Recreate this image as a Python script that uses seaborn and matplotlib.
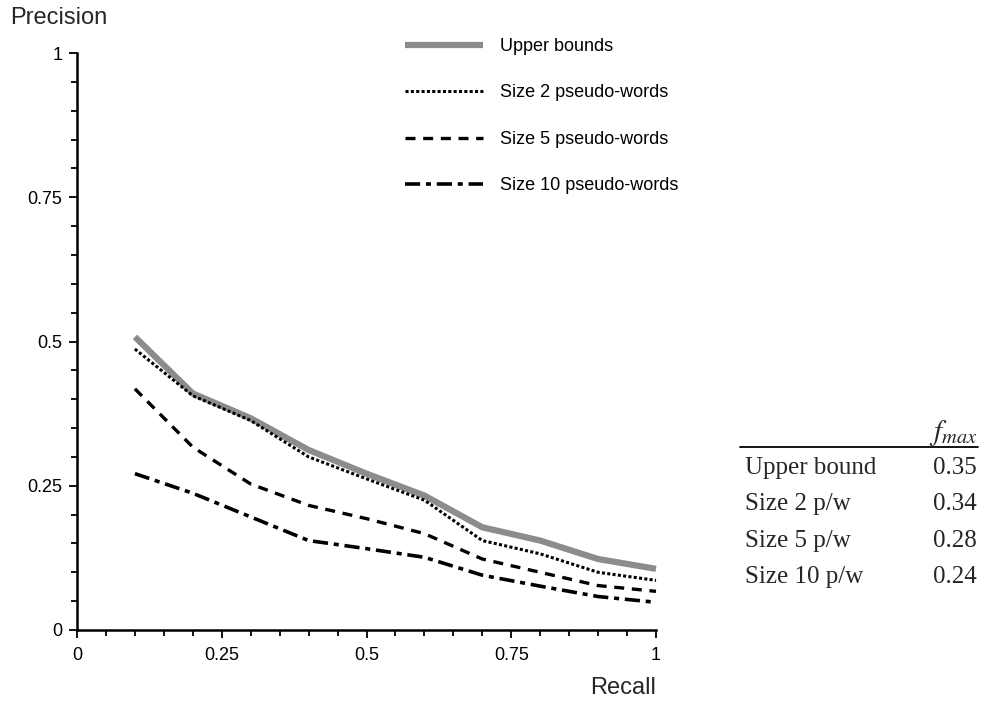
import numpy as np
import pandas as pd
import matplotlib
matplotlib.use("Agg")
import matplotlib.pyplot as plt
import seaborn as sns
from matplotlib.lines import Line2D
from matplotlib.ticker import MultipleLocator, FixedLocator

# ---- data ----
recall = [0.1, 0.2, 0.3, 0.4, 0.5, 0.6, 0.7, 0.8, 0.9, 1.0]
upper_bounds = [0.508, 0.410, 0.367, 0.312, 0.271, 0.233, 0.178, 0.155, 0.123, 0.106]
size2 = [0.487, 0.406, 0.363, 0.300, 0.262, 0.225, 0.155, 0.132, 0.100, 0.086]
size5 = [0.418, 0.317, 0.253, 0.216, 0.193, 0.167, 0.123, 0.100, 0.077, 0.067]
size10 = [0.271, 0.237, 0.196, 0.155, 0.141, 0.126, 0.095, 0.076, 0.058, 0.048]
series_names = ["Upper bounds", "Size 2 pseudo-words", "Size 5 pseudo-words", "Size 10 pseudo-words"]
x_ticks = [0, 0.25, 0.5, 0.75, 1]
x_tick_labels = ["0", "0.25", "0.5", "0.75", "1"]
y_ticks = [0, 0.25, 0.5, 0.75, 1]
y_tick_labels = ["0", "0.25", "0.5", "0.75", "1"]
table_rows = ["Upper bound", "Size 2 p/w", "Size 5 p/w", "Size 10 p/w"]
table_fmax = ["0.35", "0.34", "0.28", "0.24"]

df = pd.DataFrame({
    "Recall": recall * 4,
    "Precision": upper_bounds + size2 + size5 + size10,
    "series": np.repeat(series_names, len(recall)),
})

sns.set_theme(style="white")
plt.rcParams["font.family"] = ["Liberation Sans", "DejaVu Sans"]
plt.rcParams["mathtext.fontset"] = "stix"

W, H = 988, 702
fig = plt.figure(figsize=(W / 100, H / 100), dpi=100)
ax = fig.add_axes([77 / W, 1 - 630 / H, 579 / W, 577 / H])

styles = {
    "Upper bounds": dict(color="#8c8c8c", lw=4.5, ls="-"),
    "Size 2 pseudo-words": dict(color="black", lw=2.2, ls=(0, (1.0, 0.75))),
    "Size 5 pseudo-words": dict(color="black", lw=2.4, ls=(0, (3.0, 2.3))),
    "Size 10 pseudo-words": dict(color="black", lw=2.6, ls=(0, (4.2, 1.6, 1.4, 1.6))),
}
for name in series_names:
    st = styles[name]
    sns.lineplot(data=df[df["series"] == name], x="Recall", y="Precision", ax=ax,
                 color=st["color"], linewidth=st["lw"], linestyle=st["ls"],
                 label=name, clip_on=False, solid_capstyle="butt", dash_capstyle="butt")

ax.set_xlim(0, 1)
ax.set_ylim(0, 1)
ax.xaxis.set_major_locator(FixedLocator(x_ticks))
ax.set_xticklabels(x_tick_labels)
ax.yaxis.set_major_locator(FixedLocator(y_ticks))
ax.set_yticklabels(y_tick_labels)
ax.xaxis.set_minor_locator(MultipleLocator(0.05))
ax.yaxis.set_minor_locator(MultipleLocator(0.05))
for s in ["top", "right"]:
    ax.spines[s].set_visible(False)
for s in ["left", "bottom"]:
    ax.spines[s].set_linewidth(1.8)
    ax.spines[s].set_color("black")
ax.tick_params(which="both", direction="out", length=4.5, width=1.3, color="black",
               bottom=True, left=True, labelsize=13, labelcolor="black")
ax.tick_params(which="major", length=5.5, pad=5)
ax.tick_params(axis="x", which="major", pad=7)
ax.set_xlabel("")
ax.set_ylabel("")

fig.text(59 / W, 1 - 18 / H, "Precision", ha="center", va="center", fontsize=17)
fig.text(656 / W, 1 - 688 / H, "Recall", ha="right", va="center", fontsize=17)

leg = ax.legend(loc="upper left", bbox_to_anchor=(405 / W, 1 - 38 / H),
                bbox_transform=fig.transFigure, frameon=False, fontsize=13,
                handlelength=4.3, handletextpad=0.95, labelspacing=1.63,
                borderpad=0, borderaxespad=0)
for t in leg.get_texts():
    t.set_color("black")

# ---- f_max table ----
serif = ["Liberation Serif", "DejaVu Serif"]
fig.text(977 / W, 1 - 433 / H, r"$f_{max}$", ha="right", va="center", fontsize=21)
fig.add_artist(Line2D([740 / W, 978 / W], [1 - 447 / H] * 2, transform=fig.transFigure,
                      color="black", lw=1.3))
row_y = [468, 504, 541, 577]
for yy, lab, val in zip(row_y, table_rows, table_fmax):
    fig.text(745 / W, 1 - yy / H, lab, ha="left", va="center", fontsize=18, family=serif)
    fig.text(977 / W, 1 - yy / H, val, ha="right", va="center", fontsize=18, family=serif)

fig.savefig("out.png", dpi=100)
